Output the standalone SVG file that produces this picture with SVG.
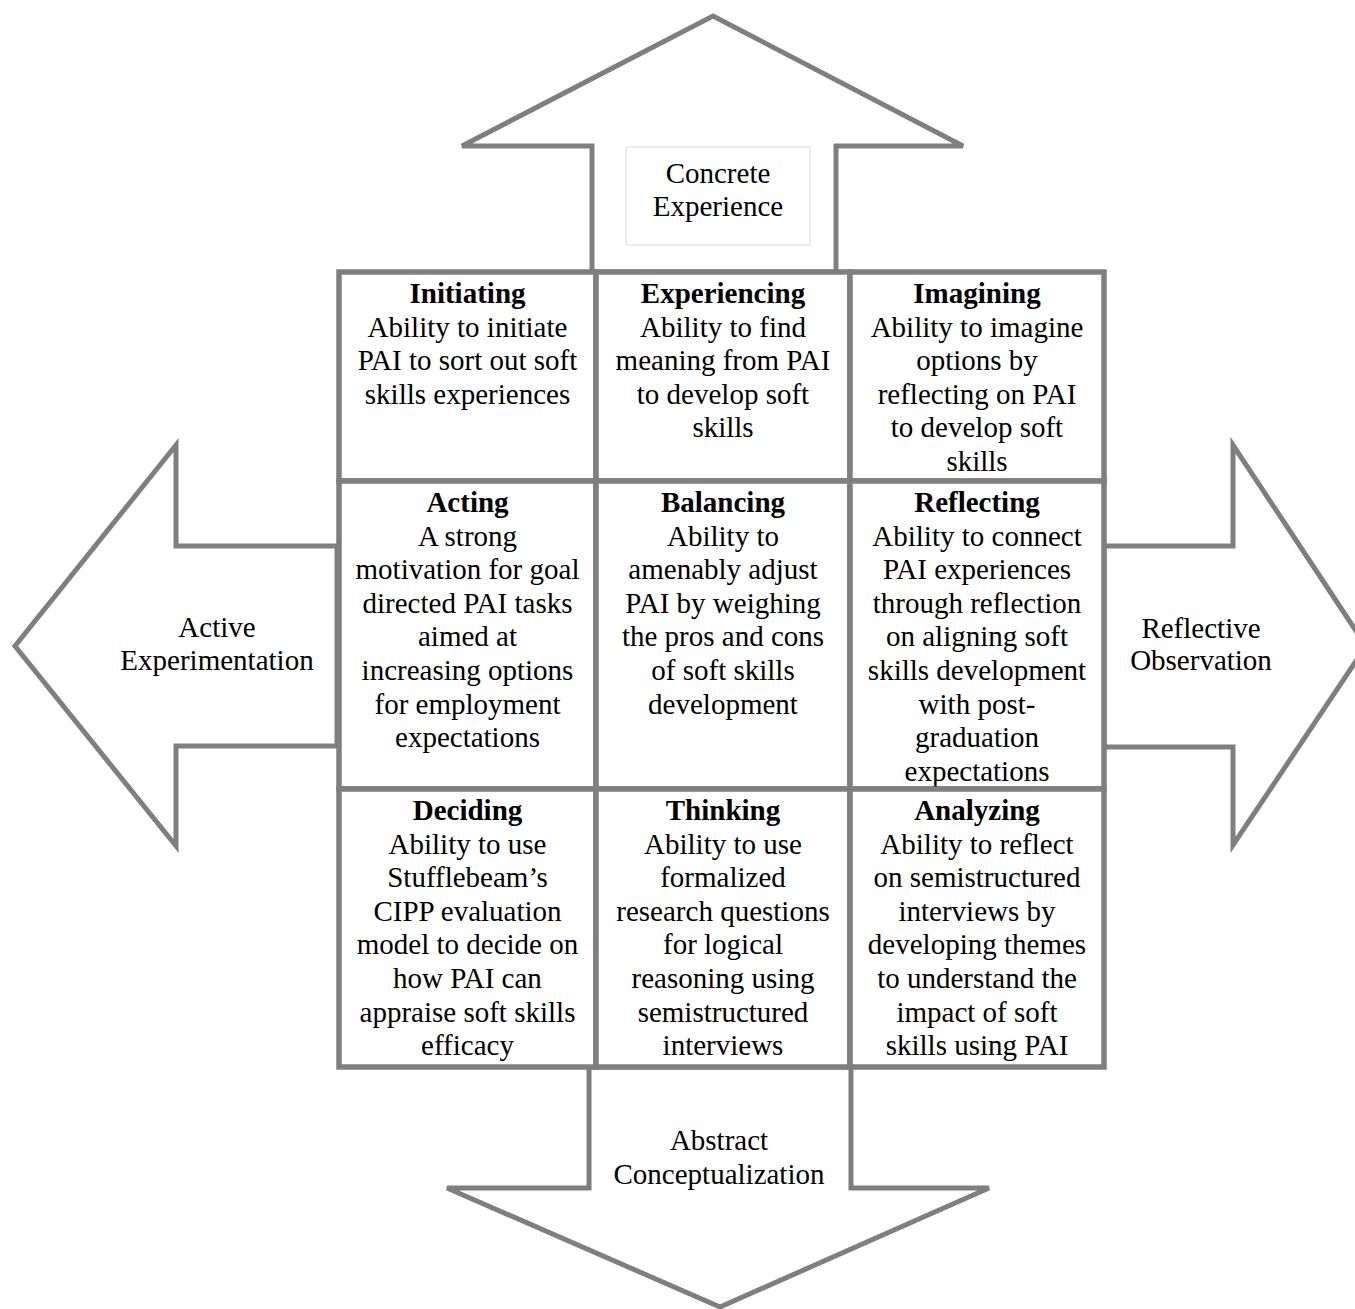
<svg xmlns="http://www.w3.org/2000/svg" width="1355" height="1309" viewBox="0 0 1355 1309" font-family="'Liberation Serif', 'Times New Roman', Times, serif">
<style>
.arrow{fill:#ffffff;stroke:#7f7f7f;stroke-width:5;stroke-linejoin:miter}
.cell{fill:#ffffff;stroke:#7f7f7f;stroke-width:5.5}
text{font-family:'Liberation Serif','Times New Roman',Times,serif;font-size:29px;fill:#000000;text-anchor:middle}
.t{font-weight:bold}
</style>
<rect width="1355" height="1309" fill="#ffffff"/>
<g id="connectors">
<g id="arrow-top">
<polygon class="arrow" points="713,16 963,146 836,146 836,272 592,272 592,146 462,146"/>
<rect x="626" y="147" width="184" height="98" fill="#ffffff" stroke="#d9d9d9" stroke-width="1"/>
<text x="718" y="183">Concrete</text>
<text x="718" y="216">Experience</text>
</g>
<g id="arrow-left">
<polygon class="arrow" points="15,646 176,445 176,546 337,546 337,746 176,746 176,846"/>
<text x="217" y="637">Active</text>
<text x="217" y="670">Experimentation</text>
</g>
<g id="arrow-right">
<polygon class="arrow" points="1366,646 1233,445 1233,546 1104,546 1104,747 1233,747 1233,845"/>
<text x="1201" y="638">Reflective</text>
<text x="1201" y="670">Observation</text>
</g>
<g id="arrow-bottom">
<polygon class="arrow" points="720,1307 989,1188 851,1188 851,1067 589,1067 589,1188 447,1188"/>
<text x="719" y="1150">Abstract</text>
<text x="719" y="1184">Conceptualization</text>
</g>
</g>
<g id="initiating">
<rect class="cell" x="339" y="272" width="257" height="209"/>
<text x="467.5" y="303" class="t">Initiating</text>
<text x="467.5" y="337">Ability to initiate</text>
<text x="467.5" y="370">PAI to sort out soft</text>
<text x="467.5" y="404">skills experiences</text>
</g>
<g id="experiencing">
<rect class="cell" x="596" y="272" width="254" height="209"/>
<text x="723" y="303" class="t">Experiencing</text>
<text x="723" y="337">Ability to find</text>
<text x="723" y="370">meaning from PAI</text>
<text x="723" y="404">to develop soft</text>
<text x="723" y="437">skills</text>
</g>
<g id="imagining">
<rect class="cell" x="850" y="272" width="254" height="209"/>
<text x="977" y="303" class="t">Imagining</text>
<text x="977" y="337">Ability to imagine</text>
<text x="977" y="370">options by</text>
<text x="977" y="404">reflecting on PAI</text>
<text x="977" y="437">to develop soft</text>
<text x="977" y="471">skills</text>
</g>
<g id="acting">
<rect class="cell" x="339" y="481" width="257" height="308"/>
<text x="467.5" y="512" class="t">Acting</text>
<text x="467.5" y="546">A strong</text>
<text x="467.5" y="579">motivation for goal</text>
<text x="467.5" y="613">directed PAI tasks</text>
<text x="467.5" y="646">aimed at</text>
<text x="467.5" y="680">increasing options</text>
<text x="467.5" y="714">for employment</text>
<text x="467.5" y="747">expectations</text>
</g>
<g id="balancing">
<rect class="cell" x="596" y="481" width="254" height="308"/>
<text x="723" y="512" class="t">Balancing</text>
<text x="723" y="546">Ability to</text>
<text x="723" y="579">amenably adjust</text>
<text x="723" y="613">PAI by weighing</text>
<text x="723" y="646">the pros and cons</text>
<text x="723" y="680">of soft skills</text>
<text x="723" y="714">development</text>
</g>
<g id="reflecting">
<rect class="cell" x="850" y="481" width="254" height="308"/>
<text x="977" y="512" class="t">Reflecting</text>
<text x="977" y="546">Ability to connect</text>
<text x="977" y="579">PAI experiences</text>
<text x="977" y="613">through reflection</text>
<text x="977" y="646">on aligning soft</text>
<text x="977" y="680">skills development</text>
<text x="977" y="714">with post-</text>
<text x="977" y="747">graduation</text>
<text x="977" y="781">expectations</text>
</g>
<g id="deciding">
<rect class="cell" x="339" y="789" width="257" height="278"/>
<text x="467.5" y="820" class="t">Deciding</text>
<text x="467.5" y="854">Ability to use</text>
<text x="467.5" y="887">Stufflebeam’s</text>
<text x="467.5" y="921">CIPP evaluation</text>
<text x="467.5" y="954">model to decide on</text>
<text x="467.5" y="988">how PAI can</text>
<text x="467.5" y="1022">appraise soft skills</text>
<text x="467.5" y="1055">efficacy</text>
</g>
<g id="thinking">
<rect class="cell" x="596" y="789" width="254" height="278"/>
<text x="723" y="820" class="t">Thinking</text>
<text x="723" y="854">Ability to use</text>
<text x="723" y="887">formalized</text>
<text x="723" y="921">research questions</text>
<text x="723" y="954">for logical</text>
<text x="723" y="988">reasoning using</text>
<text x="723" y="1022">semistructured</text>
<text x="723" y="1055">interviews</text>
</g>
<g id="analyzing">
<rect class="cell" x="850" y="789" width="254" height="278"/>
<text x="977" y="820" class="t">Analyzing</text>
<text x="977" y="854">Ability to reflect</text>
<text x="977" y="887">on semistructured</text>
<text x="977" y="921">interviews by</text>
<text x="977" y="954">developing themes</text>
<text x="977" y="988">to understand the</text>
<text x="977" y="1022">impact of soft</text>
<text x="977" y="1055">skills using PAI</text>
</g>
</svg>
